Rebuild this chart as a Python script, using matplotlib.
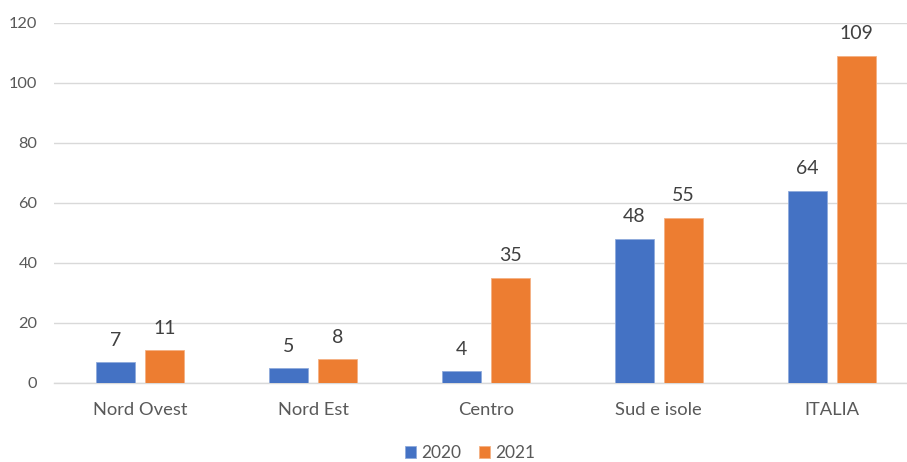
import matplotlib
matplotlib.use("Agg")
import matplotlib.pyplot as plt
import numpy as np

categories = ["Nord Ovest", "Nord Est", "Centro", "Sud e isole", "ITALIA"]
series_names = ["2020", "2021"]
values_2020 = [7, 5, 4, 48, 64]
values_2021 = [11, 8, 35, 55, 109]
yticks = [0, 20, 40, 60, 80, 100, 120]

plt.rcParams['font.family'] = ['Lato', 'DejaVu Sans']

W, H = 907, 462
fig = plt.figure(figsize=(W/100, H/100), dpi=100)
left, right, top, bottom = 54, 907, 22.5, 383
ax = fig.add_axes([left/W, (H-bottom)/H, (right-left)/W, (bottom-top)/H])

x = np.arange(len(categories))
bw = 0.2256
off = 0.1417
blue = "#4472C4"
orange = "#ED7D31"
b1 = ax.bar(x - off, values_2020, bw, color=blue, edgecolor="#8FAADC", linewidth=0.6, label=series_names[0], zorder=3)
b2 = ax.bar(x + off, values_2021, bw, color=orange, edgecolor="#F4B183", linewidth=0.6, label=series_names[1], zorder=3)

for bars, vals in ((b1, values_2020), (b2, values_2021)):
    for rect, v in zip(bars, vals):
        ax.annotate(str(v), (rect.get_x() + rect.get_width()/2, v),
                    xytext=(0, 15.8), textcoords="offset points",
                    ha="center", va="center", fontsize=14, color="#404040")

span = (918 - 54) / 5.0
ax.set_xlim(-0.5, -0.5 + (right - left) / span)
ax.set_ylim(0, 120)
ax.set_yticks(yticks)
ax.set_yticklabels([str(t) for t in yticks])
ax.set_xticks(x)
ax.set_xticklabels(categories)
ax.grid(axis="y", color="#D9D9D9", linewidth=1.0, zorder=0)
ax.set_axisbelow(True)
for s in ["top", "right", "left"]:
    ax.spines[s].set_visible(False)
ax.spines["bottom"].set_color("#D9D9D9")
ax.spines["bottom"].set_linewidth(1.0)
ax.tick_params(axis="both", length=0, colors="#595959")
ax.tick_params(axis="y", labelsize=11.8, pad=12)
ax.tick_params(axis="x", labelsize=13.2, pad=13.5)

leg = fig.legend(handles=[b1, b2], labels=series_names, loc="center",
                 bbox_to_anchor=(470/W, (H-453)/H), ncol=2, frameon=False,
                 fontsize=12.5, handlelength=0.65, handleheight=0.65,
                 handletextpad=0.3, columnspacing=1.0)
for t in leg.get_texts():
    t.set_color("#595959")

fig.savefig("out.png", dpi=100)
